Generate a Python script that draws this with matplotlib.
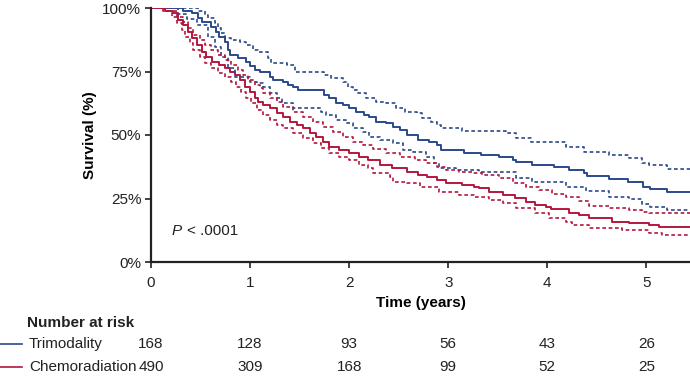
import matplotlib
matplotlib.use("Agg")
import matplotlib.pyplot as plt
from matplotlib.transforms import blended_transform_factory

plt.rcParams['font.family'] = ['Liberation Sans', 'DejaVu Sans']

# Trimodality (blue) Kaplan-Meier estimate and 95% CI
tri_t = [0, 0.32, 0.41, 0.47, 0.51, 0.61, 0.66, 0.69, 0.75, 0.78, 0.80, 0.88, 0.96, 1.00, 1.05, 1.10, 1.20, 1.23, 1.33, 1.38, 1.43, 1.48, 1.75, 1.80, 1.87, 1.94, 2.00, 2.07, 2.15, 2.20, 2.27, 2.37, 2.44, 2.51, 2.58, 2.69, 2.81, 2.89, 2.93, 3.16, 3.33, 3.51, 3.65, 3.68, 3.85, 4.07, 4.22, 4.37, 4.40, 4.62, 4.81, 4.97, 5.04, 5.21, 5.44]
tri_s = [100, 99, 97.9, 96, 94.6, 92.6, 90.7, 88.7, 86.7, 83.5, 81.5, 80.2, 78.9, 77.3, 75.6, 74.9, 73, 71.7, 71, 69.7, 69, 67.7, 65.7, 64.4, 62.5, 61.8, 60.5, 59.2, 57.9, 57.2, 55.2, 54.6, 53.3, 52, 50, 48, 47.4, 46, 44, 43, 42.1, 41.5, 40.2, 39.2, 38.2, 37.3, 36.2, 35, 34, 32.7, 31.6, 29.6, 28.7, 27.4, 27.4]
tri_up_t = [0, 0.47, 0.54, 0.58, 0.65, 0.68, 0.71, 0.75, 0.81, 0.90, 0.96, 1.03, 1.08, 1.18, 1.21, 1.37, 1.45, 1.75, 1.82, 1.94, 1.99, 2.04, 2.09, 2.17, 2.27, 2.37, 2.47, 2.56, 2.68, 2.74, 2.83, 2.89, 2.93, 3.14, 3.58, 3.68, 3.84, 4.19, 4.37, 4.62, 4.82, 4.96, 5.03, 5.21, 5.44]
tri_up_s = [100, 99, 97.2, 95.9, 94, 92, 90, 88, 87.4, 86.7, 85.4, 83.5, 82.5, 80.2, 78.2, 77.6, 74.9, 73.6, 72.3, 71, 69, 67.7, 66.4, 64.4, 63.1, 62.5, 60.5, 59.2, 58.5, 56.6, 55.2, 53.9, 52.6, 51.7, 50.7, 48.7, 47.4, 45.4, 43.4, 42.1, 40.8, 39.1, 38.2, 36.6, 36.6]
tri_lo_t = [0, 0.27, 0.36, 0.46, 0.58, 0.65, 0.71, 0.78, 0.85, 1.00, 1.07, 1.13, 1.20, 1.27, 1.32, 1.43, 1.72, 1.77, 1.87, 1.97, 2.04, 2.14, 2.20, 2.31, 2.44, 2.54, 2.64, 2.78, 2.86, 2.91, 3.08, 3.31, 3.68, 3.85, 4.19, 4.39, 4.62, 4.82, 4.96, 5.04, 5.21, 5.44]
tri_lo_s = [100, 97.5, 95.5, 93.3, 88.7, 84.8, 80.8, 76.2, 73, 71, 70.3, 69, 66.4, 64.4, 62.5, 60.5, 59.2, 57.9, 55.9, 54.6, 52.6, 51.3, 49.3, 48, 46.7, 44.1, 43.4, 41.5, 38.9, 36.9, 36.2, 35.6, 33, 31.6, 29.4, 27.8, 25.5, 24.7, 22.8, 21.8, 20.5, 20.5]

# Chemoradiation (red) Kaplan-Meier estimate and 95% CI
chemo_t = [0, 0.14, 0.22, 0.27, 0.32, 0.37, 0.41, 0.46, 0.51, 0.56, 0.62, 0.69, 0.75, 0.80, 0.85, 0.90, 0.95, 1.00, 1.05, 1.08, 1.13, 1.20, 1.27, 1.33, 1.40, 1.47, 1.53, 1.60, 1.67, 1.74, 1.80, 1.90, 2.00, 2.10, 2.19, 2.31, 2.43, 2.58, 2.69, 2.79, 2.89, 2.98, 3.14, 3.26, 3.31, 3.41, 3.55, 3.67, 3.78, 3.88, 3.99, 4.04, 4.22, 4.32, 4.42, 4.65, 4.82, 5.03, 5.13, 5.44]
chemo_s = [100, 99, 97.9, 95.3, 93.3, 90.7, 88, 85.4, 82.8, 80.8, 78.9, 77.6, 76.2, 74.9, 73.6, 71.7, 69, 67, 64.4, 63.1, 61.8, 60.5, 58.5, 57.2, 55.2, 53.9, 52.6, 50.7, 49.3, 47.4, 45.4, 44.1, 42.8, 41.5, 40.2, 38.2, 36.9, 35.6, 34.3, 33.6, 32.3, 31, 30.3, 29.4, 29, 27.7, 26.4, 25.1, 23.7, 22.4, 21.8, 20.7, 19.4, 18.5, 17.2, 15.9, 15.2, 14.6, 13.9, 13.9]
chemo_up_t = [0, 0.17, 0.26, 0.32, 0.37, 0.42, 0.49, 0.54, 0.61, 0.68, 0.75, 0.81, 0.88, 0.93, 0.98, 1.05, 1.10, 1.13, 1.20, 1.27, 1.33, 1.43, 1.53, 1.63, 1.74, 1.84, 1.94, 2.04, 2.14, 2.24, 2.37, 2.51, 2.66, 2.78, 2.89, 2.98, 3.11, 3.25, 3.34, 3.51, 3.65, 3.78, 3.92, 4.05, 4.19, 4.32, 4.42, 4.62, 4.82, 4.96, 5.03, 5.44]
chemo_up_s = [100, 99, 96.6, 94.6, 92, 89.4, 87.4, 85.4, 83.5, 81.5, 79.5, 77.6, 75.6, 73.6, 71.7, 69.7, 68.4, 66.4, 64.4, 63.1, 61.1, 59.2, 57.2, 55.2, 53.3, 51.3, 49.3, 47.4, 46.1, 44.5, 42.8, 41.5, 40.2, 38.9, 37.5, 36.2, 35.6, 34.9, 34.3, 33, 31, 29.4, 28.3, 26.8, 25.5, 24.2, 22.2, 21.1, 20.5, 19.8, 19.2, 19.2]
chemo_lo_t = [0, 0.12, 0.21, 0.26, 0.31, 0.34, 0.39, 0.42, 0.49, 0.54, 0.61, 0.68, 0.75, 0.81, 0.86, 0.91, 0.96, 1.01, 1.07, 1.13, 1.20, 1.27, 1.33, 1.43, 1.53, 1.63, 1.72, 1.80, 1.90, 2.00, 2.10, 2.19, 2.24, 2.41, 2.44, 2.58, 2.71, 2.91, 3.11, 3.26, 3.41, 3.55, 3.68, 3.88, 4.02, 4.19, 4.25, 4.42, 4.75, 5.03, 5.16, 5.44]
chemo_lo_s = [100, 99, 96.6, 94, 91.3, 88.7, 86.1, 83.5, 80.8, 78.2, 76.2, 74.3, 73, 71, 69, 67, 64.4, 62.5, 60, 57.9, 55.9, 53.9, 52.6, 50.7, 48.7, 46.7, 44.8, 42.8, 41.5, 40.2, 38.2, 36.9, 34.9, 33.6, 31.6, 31, 29.6, 27.7, 26.4, 25.7, 24.4, 23.1, 21.1, 19.2, 17.2, 15.9, 14.6, 13.3, 12.6, 11.5, 10.6, 10.6]

risk_times = [0, 1, 2, 3, 4, 5]
risk_tri = [168, 128, 93, 56, 43, 26]
risk_chemo = [490, 309, 168, 99, 52, 25]
group_names = ['Trimodality', 'Chemoradiation']

blue = '#2b4a8b'
red = '#b3173d'
fs = 11

fig = plt.figure(figsize=(6.9, 3.76), dpi=100)
ax = fig.add_axes([151/690, 1-262/376, 1-151/690, (262-8)/376])

for t, s, c in [(tri_t, tri_s, blue), (chemo_t, chemo_s, red)]:
    ax.plot(t, s, drawstyle='steps-post', color=c, lw=1.4)
for t, s, c in [(tri_up_t, tri_up_s, blue), (tri_lo_t, tri_lo_s, blue),
                (chemo_up_t, chemo_up_s, red), (chemo_lo_t, chemo_lo_s, red)]:
    ax.plot(t, s, drawstyle='steps-post', color=c, lw=1.2, dashes=(2.2, 1.6))

ax.set_xlim(0, 5.44)
ax.set_ylim(0, 100)
ax.set_yticks([0, 25, 50, 75, 100])
ax.set_yticklabels(['0%', '25%', '50%', '75%', '100%'])
ax.set_xticks([0, 1, 2, 3, 4, 5])
for side in ['top', 'right']:
    ax.spines[side].set_visible(False)
for side in ['left', 'bottom']:
    ax.spines[side].set_linewidth(1.6)
    ax.spines[side].set_color('#222222')
ax.tick_params(labelsize=fs, length=4, width=1.2, color='#222222', labelcolor='#222222', pad=3)
ax.tick_params(axis='x', pad=6)
ax.set_ylabel('Survival (%)', fontsize=fs, fontweight='bold')
ax.yaxis.set_label_coords(-0.100, 0.5)
ax.set_xlabel('Time (years)', fontsize=fs, fontweight='bold')
ax.xaxis.set_label_coords(0.5, -0.134)
ax.text(0.21, 12.2, 'P', fontsize=fs, fontstyle='italic', va='center', color='#222222')
ax.text(0.36, 12.2, '< .0001', fontsize=fs, va='center', color='#222222')

# Number at risk table
trans = blended_transform_factory(ax.transData, fig.transFigure)
fig.text(27/690, 1-323/376, 'Number at risk', fontsize=fs, fontweight='bold', va='center', color='#222222')
rows_y = [1-344/376, 1-367/376]
for name, vals, c, y in [(group_names[0], risk_tri, blue, rows_y[0]), (group_names[1], risk_chemo, red, rows_y[1])]:
    fig.add_artist(plt.Line2D([0, 22/690], [y, y], color=c, lw=1.2))
    fig.text(29/690, y, name, fontsize=fs, va='center', color='#222222')
    for tt, v in zip(risk_times, vals):
        ax.text(tt, y, str(v), transform=trans, fontsize=fs, va='center', ha='center', color='#222222')

fig.savefig('out.png', dpi=100)
